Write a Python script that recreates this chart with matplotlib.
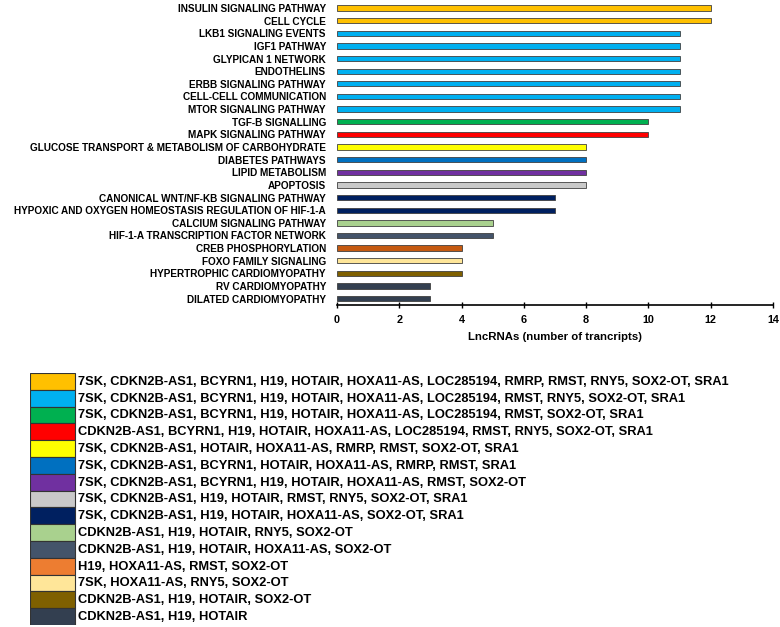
import matplotlib
matplotlib.use("Agg")
import matplotlib.pyplot as plt
from matplotlib.patches import Rectangle

plt.rcParams['font.family'] = ['Liberation Sans', 'DejaVu Sans']
plt.rcParams['font.weight'] = 'bold'

pathways = [
    "INSULIN SIGNALING PATHWAY", "CELL CYCLE", "LKB1 SIGNALING EVENTS",
    "IGF1 PATHWAY", "GLYPICAN 1 NETWORK", "ENDOTHELINS",
    "ERBB SIGNALING PATHWAY", "CELL-CELL COMMUNICATION", "MTOR SIGNALING PATHWAY",
    "TGF-B SIGNALLING", "MAPK SIGNALING PATHWAY",
    "GLUCOSE TRANSPORT & METABOLISM OF CARBOHYDRATE", "DIABETES PATHWAYS",
    "LIPID METABOLISM", "APOPTOSIS", "CANONICAL WNT/NF-KB SIGNALING PATHWAY",
    "HYPOXIC AND OXYGEN HOMEOSTASIS REGULATION OF HIF-1-A",
    "CALCIUM SIGNALING PATHWAY", "HIF-1-A TRANSCRIPTION FACTOR NETWORK",
    "CREB PHOSPHORYLATION", "FOXO FAMILY SIGNALING",
    "HYPERTROPHIC CARDIOMYOPATHY", "RV CARDIOMYOPATHY", "DILATED CARDIOMYOPATHY",
]
counts = [12, 12, 11, 11, 11, 11, 11, 11, 11, 10, 10, 8, 8, 8, 8, 7, 7, 5, 5, 4, 4, 4, 3, 3]
# index into legend groups
group_idx = [0, 0, 1, 1, 1, 1, 1, 1, 1, 2, 3, 4, 5, 6, 7, 8, 8, 9, 10, 11, 12, 13, 14, 14]

legend_labels = [
    "7SK, CDKN2B-AS1, BCYRN1, H19, HOTAIR, HOXA11-AS, LOC285194, RMRP, RMST, RNY5, SOX2-OT, SRA1",
    "7SK, CDKN2B-AS1, BCYRN1, H19, HOTAIR, HOXA11-AS, LOC285194, RMST, RNY5, SOX2-OT, SRA1",
    "7SK, CDKN2B-AS1, BCYRN1, H19, HOTAIR, HOXA11-AS, LOC285194, RMST, SOX2-OT, SRA1",
    "CDKN2B-AS1, BCYRN1, H19, HOTAIR, HOXA11-AS, LOC285194, RMST, RNY5, SOX2-OT, SRA1",
    "7SK, CDKN2B-AS1, HOTAIR, HOXA11-AS, RMRP, RMST, SOX2-OT, SRA1",
    "7SK, CDKN2B-AS1, BCYRN1, HOTAIR, HOXA11-AS, RMRP, RMST, SRA1",
    "7SK, CDKN2B-AS1, BCYRN1, H19, HOTAIR, HOXA11-AS, RMST, SOX2-OT",
    "7SK, CDKN2B-AS1, H19, HOTAIR, RMST, RNY5, SOX2-OT, SRA1",
    "7SK, CDKN2B-AS1, H19, HOTAIR, HOXA11-AS, SOX2-OT, SRA1",
    "CDKN2B-AS1, H19, HOTAIR, RNY5, SOX2-OT",
    "CDKN2B-AS1, H19, HOTAIR, HOXA11-AS, SOX2-OT",
    "H19, HOXA11-AS, RMST, SOX2-OT",
    "7SK, HOXA11-AS, RNY5, SOX2-OT",
    "CDKN2B-AS1, H19, HOTAIR, SOX2-OT",
    "CDKN2B-AS1, H19, HOTAIR",
]
legend_colors = [
    "#FFC000", "#00B0F0", "#00B050", "#FF0000", "#FFFF00", "#0070C0", "#7030A0",
    "#C9C9C9", "#002060", "#A9D18E", "#44546A", "#ED7D31", "#FFE699", "#7F6000",
    "#333F50",
]
bar_colors_override = {11: "#C55A11"}

W, H = 780, 627
fig = plt.figure(figsize=(W / 100, H / 100), dpi=100)

ax = fig.add_axes([337 / W, 1 - 305 / H, (773 - 337) / W, (305 - 1.7) / H])
ypos = list(range(len(pathways)))
colors = [bar_colors_override.get(g, legend_colors[g]) for g in group_idx]
ax.barh(ypos, counts, height=0.42, color=colors, edgecolor="#404040", linewidth=0.6)
ax.set_ylim(len(pathways) - 0.5, -0.5)
ax.set_xlim(0, 14)
ax.set_xticks(range(0, 15, 2))
ax.set_yticks(ypos)
ax.set_yticklabels(pathways, fontsize=7.2, fontweight='bold')
ax.tick_params(axis='y', length=0, pad=8)
ax.tick_params(axis='x', direction='inout', length=5, width=1, labelsize=7.8, pad=5)
for lab in ax.get_xticklabels():
    lab.set_fontweight('bold')
for s in ['top', 'right', 'left']:
    ax.spines[s].set_visible(False)
ax.spines['bottom'].set_linewidth(1.2)
ax.set_xlabel("LncRNAs (number of trancripts)", fontsize=8.2, fontweight='bold', labelpad=5)

# legend block
lx0, ly0, ly1 = 30, 373, 625
lax = fig.add_axes([lx0 / W, 1 - ly1 / H, (W - lx0) / W, (ly1 - ly0) / H])
lax.set_xlim(0, W - lx0)
lax.set_ylim(ly1 - ly0, 0)
lax.axis('off')
n = len(legend_labels)
rh = (ly1 - ly0) / n
for i, (lab, col) in enumerate(zip(legend_labels, legend_colors)):
    lax.add_patch(Rectangle((0, i * rh), 45, rh, facecolor=col, edgecolor="#333333", linewidth=0.8))
    lax.text(48, i * rh + rh / 2 + 0.3, lab, fontsize=9.3, fontweight='bold', va='center', ha='left')

fig.savefig("out.png", dpi=100)
